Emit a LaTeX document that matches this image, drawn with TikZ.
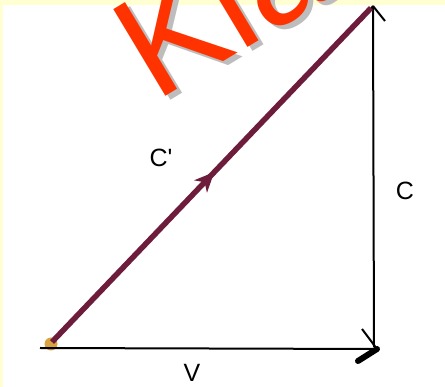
\documentclass[tikz,border=0pt]{standalone}
\usepackage{fontspec}
\setmainfont{Liberation Sans}
\usetikzlibrary{decorations.markings}
\definecolor{bandyellow}{HTML}{FFFFD2}
\definecolor{wmred}{HTML}{FF3300}
\definecolor{wmshadow}{HTML}{BDBDBD}
\definecolor{vecmaroon}{HTML}{6E1C3C}
\definecolor{blobgold}{HTML}{D9A441}
\tikzset{
  lbl/.style={inner sep=0pt, font=\fontsize{25}{25}\selectfont},
  wm/.style={inner sep=0pt, anchor=base west, rotate=31, font=\fontsize{147}{147}\selectfont},
  blackvec/.style={draw=black, line width=2pt},
  cvec/.style={draw=vecmaroon, line width=5.5pt,
    postaction={decorate, decoration={markings,
      mark=at position 0.5 with {\fill[vecmaroon] (4,0) -- (-16,9) -- (-10,0) -- (-16,-9) -- cycle;}}}},
}
\begin{document}
\begin{tikzpicture}[x=1pt,y=-1pt]
\useasboundingbox (0,0) rectangle (445,387);
\fill[white] (0,0) rectangle (445,387);
\begin{scope}
\clip (0,0) rectangle (445,387);
\fill[bandyellow] (0,0) rectangle (445,5);
\fill[bandyellow] (0,0) rectangle (3,387);
% watermark
\node[wm, text=wmshadow] (wms) at (160,107) {Kia};
\node[wm, text=wmred] (wmk) at (155.6,102.7) {Kia};
\end{scope}
% coordinates
\coordinate (A) at (52,342);
\coordinate (B) at (371,8);
\coordinate (H0) at (40,348);
\coordinate (H1) at (377,349);
\coordinate (V0) at (374,347);
\coordinate (V1) at (373,6);
% start blob
\fill[blobgold] (51,344) circle (6.5pt);
% horizontal V
\draw[blackvec] (H0) -- (H1);
\draw[blackvec] (H1) -- ++(-15,-20);
\draw[draw=black, line width=6pt, line cap=round] (H1) -- ++(-19,12);
% vertical C
\draw[blackvec] (V0) -- (V1);
\draw[blackvec] (V1) -- ++(-12,15);
\draw[blackvec] (V1) -- ++(12,15);
% diagonal C'
\draw[cvec] (A) -- (B);
% labels
\node[lbl] (lcp) at (161,158) {C\textquotesingle};
\node[lbl] (lc) at (405,191) {C};
\node[lbl] (lv) at (192,373) {V};
\end{tikzpicture}
\end{document}
